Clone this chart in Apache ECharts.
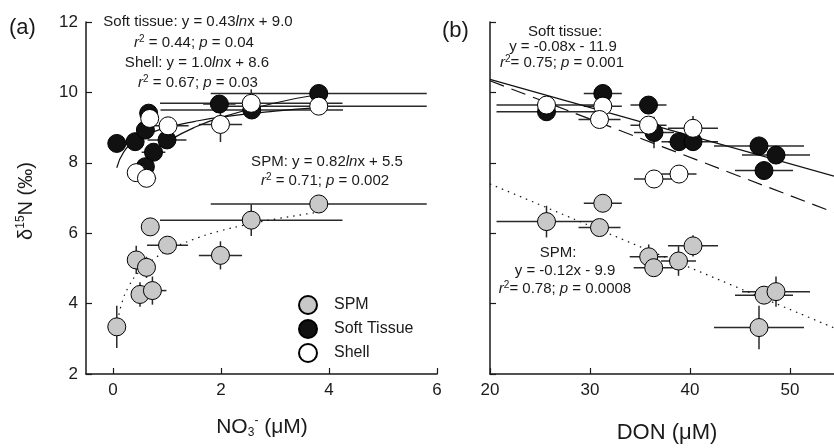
<!DOCTYPE html>
<html>
<head>
<meta charset="utf-8">
<script src="https://cdn.jsdelivr.net/npm/echarts@6.0.0/dist/echarts.min.js"></script>
<style>
html, body { margin: 0; padding: 0; background: #fff; }
#chart-0 { width: 834px; height: 448px; }
</style>
</head>
<body>
<div id="chart-0"></div>
<script>
// panel (a): d15N against NO3- (uM)
var spmA_x    = [0.07, 0.43, 0.50, 0.62, 0.73, 0.69, 1.01, 1.99, 2.56, 3.81];
var spmA_y    = [3.34, 5.24, 4.26, 5.03, 4.37, 6.18, 5.66, 5.37, 6.37, 6.83];
var spmA_xerr = [0, 0, 0, 0, 0.26, 0, 0.38, 0.40, 1.69, 2.00];
var spmA_yerr = [0.60, 0.40, 0.35, 0.30, 0.40, 0, 0.20, 0.40, 0.45, 0];

var softA_x    = [0.07, 0.41, 0.66, 0.60, 1.00, 0.75, 0.60, 1.97, 2.57, 3.81];
var softA_y    = [8.55, 8.60, 9.41, 8.93, 8.65, 8.30, 7.89, 9.67, 9.50, 9.97];
var softA_xerr = [0, 0, 0, 0, 0.36, 0.22, 0, 0.30, 1.69, 2.00];
var softA_yerr = [0, 0, 0, 0, 0, 0, 0, 0, 0, 0];

var shellA_x    = [0.68, 1.02, 1.99, 2.56, 3.81, 0.43, 0.62];
var shellA_y    = [9.26, 9.05, 9.09, 9.69, 9.61, 7.72, 7.56];
var shellA_xerr = [0, 0.38, 0.40, 1.69, 2.00, 0, 0.18];
var shellA_yerr = [0, 0.22, 0.50, 0.40, 0, 0, 0];

// fitted curves
var spmFitA_x   = [0.07, 0.15, 0.3, 0.5, 0.75, 1.0, 1.5, 2.0, 2.5, 3.0, 3.81];
var spmFitA_y   = [3.32, 3.94, 4.51, 4.93, 5.26, 5.50, 5.83, 6.07, 6.25, 6.40, 6.60];
var softFitA_x  = [0.07, 0.2, 0.4, 0.7, 1.0, 1.5, 2.0, 3.0, 3.81];
var softFitA_y  = [7.86, 8.31, 8.61, 8.85, 9.00, 9.17, 9.30, 9.47, 9.57];
var shellFitA_x = [0.43, 0.6, 0.8, 1.0, 1.5, 2.0, 3.0, 3.81];
var shellFitA_y = [7.76, 8.09, 8.38, 8.60, 9.00, 9.29, 9.70, 9.94];

// panel (b): d15N against DON (uM)
var spmB_x    = [31.28, 25.65, 30.95, 35.87, 36.37, 38.85, 40.30, 47.40, 48.60, 46.90];
var spmB_y    = [6.85, 6.33, 6.16, 5.33, 5.02, 5.21, 5.64, 4.24, 4.34, 3.32];
var spmB_xerr = [1.9, 5.0, 2.1, 1.9, 2.0, 1.75, 2.5, 2.9, 3.4, 4.5];
var spmB_yerr = [0, 0.45, 0, 0.35, 0, 0.42, 0.30, 0, 0.43, 0.62];

var softB_x    = [25.65, 31.28, 35.85, 36.40, 38.90, 40.30, 46.90, 48.60, 47.40];
var softB_y    = [9.45, 9.97, 9.64, 8.86, 8.60, 8.60, 8.48, 8.22, 7.78];
var softB_xerr = [5.0, 1.9, 1.8, 2.0, 1.75, 2.5, 4.5, 3.4, 2.9];
var softB_yerr = [0, 0, 0, 0.45, 0, 0, 0, 0, 0];

var shellB_x    = [25.65, 31.28, 30.95, 35.85, 40.30, 36.40, 38.90];
var shellB_y    = [9.64, 9.61, 9.23, 9.07, 8.98, 7.54, 7.68];
var shellB_xerr = [5.0, 1.9, 2.1, 1.8, 2.5, 2.0, 1.75];
var shellB_yerr = [0.2, 0, 0, 0, 0.35, 0, 0];

var softFitB_x  = [20, 54.4];
var softFitB_y  = [10.37, 7.62];
var shellFitB_x = [20, 54.4];
var shellFitB_y = [10.33, 6.59];
var spmFitB_x   = [20, 54.4];
var spmFitB_y   = [7.40, 3.31];

var xTicksA = [0, 2, 4, 6];

var FONT = 'Liberation Sans, Arial, sans-serif';
var INK = '#1a1a1a';

function pairs(xs, ys) {
    var out = [];
    for (var i = 0; i < xs.length; i++) out.push([xs[i], ys[i]]);
    return out;
}
function rows(xs, ys, ex, ey) {
    var out = [];
    for (var i = 0; i < xs.length; i++) out.push([xs[i], ys[i], ex[i], ey[i]]);
    return out;
}

function renderErr(params, api) {
    var x = api.value(0), y = api.value(1), ex = api.value(2), ey = api.value(3);
    var style = { stroke: '#2a2a2a', lineWidth: 1.5 };
    var kids = [];
    if (ex > 0) {
        var l = api.coord([x - ex, y]), r = api.coord([x + ex, y]);
        kids.push({ type: 'line', shape: { x1: l[0], y1: l[1], x2: r[0], y2: r[1] }, style: style });
    }
    if (ey > 0) {
        var b = api.coord([x, y - ey]), t = api.coord([x, y + ey]);
        kids.push({ type: 'line', shape: { x1: b[0], y1: b[1], x2: t[0], y2: t[1] }, style: style });
    }
    return { type: 'group', children: kids };
}

function errSeries(idx, data) {
    return {
        type: 'custom', xAxisIndex: idx, yAxisIndex: idx, z: 1, clip: true,
        renderItem: renderErr, encode: { x: 0, y: 1 }, data: data, silent: true
    };
}
function fitSeries(idx, data, dash) {
    return {
        type: 'line', xAxisIndex: idx, yAxisIndex: idx, z: 2, data: data,
        showSymbol: false, smooth: true, silent: true,
        lineStyle: { color: '#111', width: 1.2, type: dash }
    };
}
function dotSeries(idx, name, data, fill, z) {
    return {
        type: 'scatter', name: name, xAxisIndex: idx, yAxisIndex: idx, z: z, data: data,
        symbol: 'circle', symbolSize: 18,
        itemStyle: { color: fill, borderColor: '#000', borderWidth: 1, opacity: 1 }
    };
}

function axisX(idx, min, max, extra) {
    var a = {
        gridIndex: idx, type: 'value', min: min, max: max,
        splitLine: { show: false },
        axisLine: { show: true, onZero: false, lineStyle: { color: INK, width: 1.5 } },
        axisTick: { show: true, inside: true, length: 6, lineStyle: { color: INK, width: 1.2 } },
        axisLabel: { color: INK, fontSize: 17, fontFamily: FONT, margin: 8 }
    };
    for (var k in extra) {
        if (typeof extra[k] === 'object') {
            for (var j in extra[k]) a[k][j] = extra[k][j];
        } else {
            a[k] = extra[k];
        }
    }
    return a;
}
function axisY(idx, showLabel) {
    return {
        gridIndex: idx, type: 'value', min: 2, max: 12, interval: 2,
        splitLine: { show: false },
        axisLine: { show: true, onZero: false, lineStyle: { color: INK, width: 1.5 } },
        axisTick: { show: true, inside: true, length: 6, lineStyle: { color: INK, width: 1.2 } },
        axisLabel: { show: showLabel, color: INK, fontSize: 17, fontFamily: FONT, margin: 8 }
    };
}

var rich = {
    i: { fontStyle: 'italic', fontSize: 15, fontFamily: FONT, fill: INK },
    sup: { fontSize: 10, fontFamily: FONT, verticalAlign: 'top', lineHeight: 10, fill: INK }
};
function note(x, y, text) {
    return {
        type: 'text', x: x, y: y, silent: true,
        style: {
            text: text, fill: INK, fontSize: 15, fontFamily: FONT,
            align: 'center', verticalAlign: 'middle', lineHeight: 18, rich: rich
        }
    };
}

var chart = echarts.init(document.getElementById('chart-0'), null, { renderer: 'canvas' });

var option = {
    animation: false,
    backgroundColor: '#fff',
    grid: [
        { left: 86, top: 22, width: 351, height: 352 },
        { left: 490, top: 22, width: 344, height: 352 }
    ],
    xAxis: [
        axisX(0, -0.5, 6, { axisTick: { customValues: xTicksA }, axisLabel: { customValues: xTicksA } }),
        axisX(1, 20, 54.4, { interval: 10, axisLabel: { showMaxLabel: false } })
    ],
    yAxis: [axisY(0, true), axisY(1, false)],
    legend: {
        data: ['SPM', 'Soft Tissue', 'Shell'],
        orient: 'vertical', left: 293, top: 290,
        itemWidth: 18, itemHeight: 18, itemGap: 4,
        selectedMode: false,
        textStyle: { color: INK, fontSize: 16, fontFamily: FONT, padding: [0, 0, 0, 12] }
    },
    series: [
        errSeries(0, rows(spmA_x, spmA_y, spmA_xerr, spmA_yerr)),
        errSeries(0, rows(softA_x, softA_y, softA_xerr, softA_yerr)),
        errSeries(0, rows(shellA_x, shellA_y, shellA_xerr, shellA_yerr)),
        errSeries(1, rows(spmB_x, spmB_y, spmB_xerr, spmB_yerr)),
        errSeries(1, rows(softB_x, softB_y, softB_xerr, softB_yerr)),
        errSeries(1, rows(shellB_x, shellB_y, shellB_xerr, shellB_yerr)),
        fitSeries(0, pairs(spmFitA_x, spmFitA_y), [1.5, 5]),
        fitSeries(0, pairs(softFitA_x, softFitA_y), 'solid'),
        fitSeries(0, pairs(shellFitA_x, shellFitA_y), 'solid'),
        fitSeries(1, pairs(spmFitB_x, spmFitB_y), [1.5, 5]),
        fitSeries(1, pairs(softFitB_x, softFitB_y), 'solid'),
        fitSeries(1, pairs(shellFitB_x, shellFitB_y), [15, 8]),
        dotSeries(0, 'SPM', pairs(spmA_x, spmA_y), '#c8c8c8', 3),
        dotSeries(0, 'Soft Tissue', pairs(softA_x, softA_y), '#111111', 4),
        dotSeries(0, 'Shell', pairs(shellA_x, shellA_y), '#ffffff', 5),
        dotSeries(1, 'SPM', pairs(spmB_x, spmB_y), '#c8c8c8', 3),
        dotSeries(1, 'Soft Tissue', pairs(softB_x, softB_y), '#111111', 4),
        dotSeries(1, 'Shell', pairs(shellB_x, shellB_y), '#ffffff', 5)
    ],
    graphic: [
        note(198, 22, 'Soft tissue: y = 0.43{i|ln}x + 9.0'),
        note(194, 43, '{i|r}{sup|2} = 0.44; {i|p} = 0.04'),
        note(197, 63, 'Shell: y = 1.0{i|ln}x + 8.6'),
        note(198, 83, '{i|r}{sup|2} = 0.67; {i|p} = 0.03'),
        note(327, 162, 'SPM: y = 0.82{i|ln}x + 5.5'),
        note(325, 181, '{i|r}{sup|2} = 0.71; {i|p} = 0.002'),
        note(565, 32, 'Soft tissue:'),
        note(563, 47, 'y = -0.08x - 11.9'),
        note(562, 63, '{i|r}{sup|2}= 0.75; {i|p} = 0.001'),
        note(558, 253, 'SPM:'),
        note(565, 271, 'y = -0.12x - 9.9'),
        note(565, 289, '{i|r}{sup|2}= 0.78; {i|p} = 0.0008'),
        {
            type: 'text', x: 9, y: 28, silent: true,
            style: { text: '(a)', fill: INK, fontSize: 22, fontFamily: FONT, verticalAlign: 'middle' }
        },
        {
            type: 'text', x: 442, y: 31, silent: true,
            style: { text: '(b)', fill: INK, fontSize: 22, fontFamily: FONT, verticalAlign: 'middle' }
        },
        {
            type: 'text', x: 262, y: 427, silent: true,
            style: {
                text: 'NO{sub|3}{sup|-} (μM)', fill: INK, fontSize: 21, fontFamily: FONT,
                align: 'center', verticalAlign: 'middle', lineHeight: 24,
                rich: {
                    sub: { fontSize: 12, fontFamily: FONT, verticalAlign: 'bottom', lineHeight: 12, fill: INK },
                    sup: { fontSize: 12, fontFamily: FONT, verticalAlign: 'top', lineHeight: 12, fill: INK }
                }
            }
        },
        {
            type: 'text', x: 667, y: 433, silent: true,
            style: { text: 'DON (μM)', fill: INK, fontSize: 22, fontFamily: FONT, align: 'center', verticalAlign: 'middle' }
        },
        {
            type: 'text', x: 26, y: 201, rotation: Math.PI / 2, silent: true,
            style: {
                text: 'δ{sup|15}N (‰)', fill: INK, fontSize: 20, fontFamily: FONT,
                align: 'center', verticalAlign: 'middle', lineHeight: 22,
                rich: { sup: { fontSize: 12, fontFamily: FONT, verticalAlign: 'top', lineHeight: 12, fill: INK } }
            }
        }
    ]
};
chart.setOption(option);
</script>
</body>
</html>
